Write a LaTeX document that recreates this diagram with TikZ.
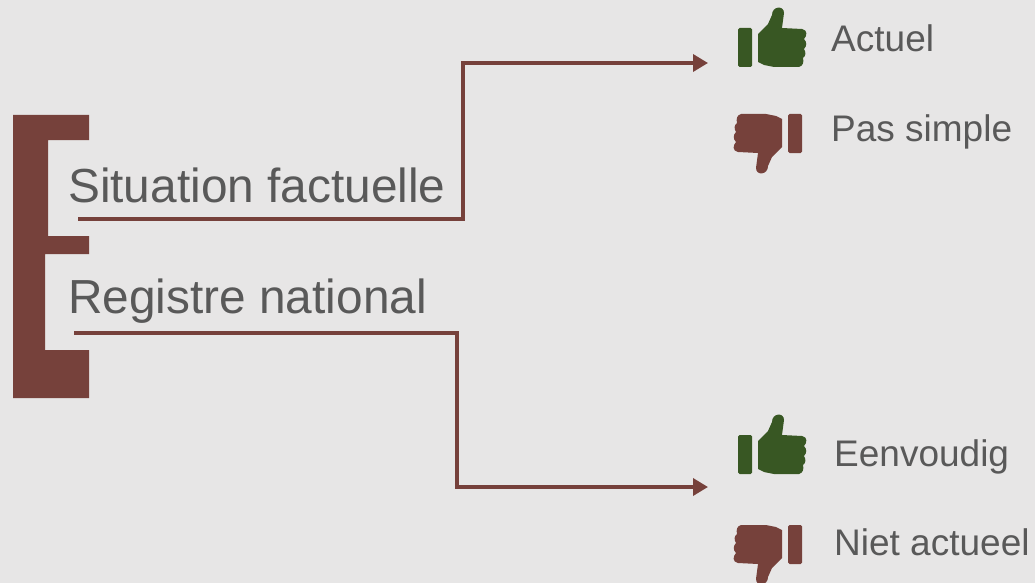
\documentclass[tikz,border=0pt]{standalone}
\usepackage{fontspec}
\setmainfont{Liberation Sans}
\usetikzlibrary{arrows.meta}
\definecolor{bggray}{HTML}{E7E6E6}
\definecolor{brick}{HTML}{76413B}
\definecolor{leaf}{HTML}{385723}
\definecolor{txtgray}{HTML}{595959}
\tikzset{
  thumbup/.pic={
    \fill[rounded corners=1.5pt] (-34,-9) rectangle (-20,30);
    \fill (-14,-3) -- (-4,-13) -- (0,-22) .. controls (0,-31) and (12,-32) .. (12,-24)
      -- (10,-9) -- (30,-8) .. controls (36,-7) and (35,-1) .. (32,2)
      .. controls (35,5) and (35,9) .. (32,12) .. controls (34,15) and (34,19) .. (31,21)
      .. controls (32,25) and (31,29) .. (27,30) -- (2,30) -- (-8,28) -- (-14,25) -- cycle;
  }
}
\begin{document}
\begin{tikzpicture}[x=1pt,y=-1pt,>=Triangle,
    bigtext/.style={anchor=base west,inner sep=0pt,text=txtgray,font=\fontsize{47.8pt}{56pt}\selectfont},
    label/.style={anchor=base west,inner sep=0pt,text=txtgray,font=\fontsize{37pt}{44pt}\selectfont},
    link/.style={draw=brick,line width=3.5pt,-{Triangle[length=15pt,width=17pt]}}]
        \fill[bggray] (0,0) rectangle (1035,583);
        \useasboundingbox (0,0) rectangle (1035,583);
        %
        \fill[brick] (13,115) -- (89,115) -- (89,140) -- (48,140) -- (48,236) -- (89,236) -- (89,254)
          -- (45,254) -- (45,350) -- (89,350) -- (89,398) -- (13,398) -- cycle;
        %
        \node (situation) at (68,202) [bigtext] {Situation factuelle};
        \node (registre) at (68,313) [bigtext] {Registre national};
        \coordinate (sitstart) at (78,219);
        \coordinate (sitend) at (708,63);
        \coordinate (regstart) at (74,333);
        \coordinate (regend) at (708,487);
        %
        \pic[fill=leaf] (up1) at (772,37) {thumbup};
        \pic[fill=brick,rotate=180] (down1) at (768,144) {thumbup};
        \pic[fill=leaf] (up2) at (772,444) {thumbup};
        \pic[fill=brick,rotate=180] (down2) at (768,555) {thumbup};
        %
        \node (actuel) at (831,52) [label] {Actuel};
        \node (passimple) at (831,141) [label] {Pas simple};
        \node (eenvoudig) at (834,466) [label] {Eenvoudig};
        \node (nietactueel) at (834,555) [label] {Niet actueel};
        %
        \draw [link] (sitstart) -- ++(385,0) |- (sitend);
        \draw [link] (regstart) -- ++(383,0) |- (regend);
        %
\end{tikzpicture}
\end{document}
